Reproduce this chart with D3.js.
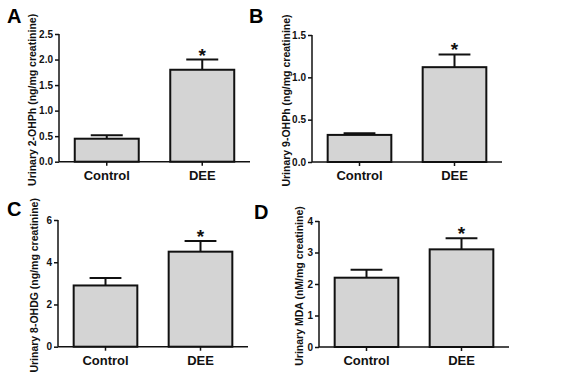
<!DOCTYPE html>
<html>
<head>
<meta charset="utf-8">
<script src="https://cdn.jsdelivr.net/npm/d3@7"></script>
<style>
  html, body { margin: 0; padding: 0; background: #fff; }
  svg { display: block; font-family: "Liberation Sans", Arial, sans-serif; }
</style>
</head>
<body>
<svg id="chart" width="563" height="383"></svg>
<script>
// ---- Data ----
const categories = ["Control", "DEE"];

const ohph2Means = [0.45, 1.80];
const ohph2Errors = [0.07, 0.20];
const ohph2Ticks = [0, 0.5, 1.0, 1.5, 2.0, 2.5];

const ohph9Means = [0.32, 1.12];
const ohph9Errors = [0.02, 0.15];
const ohph9Ticks = [0, 0.5, 1.0, 1.5];

const ohdgMeans = [2.9, 4.5];
const ohdgErrors = [0.35, 0.5];
const ohdgTicks = [0, 2, 4, 6];

const mdaMeans = [2.2, 3.1];
const mdaErrors = [0.25, 0.35];
const mdaTicks = [0, 1, 2, 3, 4];

const significant = [false, true];

const panelLetters = ["A", "B", "C", "D"];
const yTitles = [
  "Urinary 2-OHPh (ng/mg creatinine)",
  "Urinary 9-OHPh (ng/mg creatinine)",
  "Urinary 8-OHDG (ng/mg creatinine)",
  "Urinary MDA (nM/mg creatinine)"
];

// ---- Layout ----
const panels = [
  { letter: panelLetters[0], title: yTitles[0], means: ohph2Means, errs: ohph2Errors, ticks: ohph2Ticks, fmt: ".1f",
    x0: 59, x1: 250, yTop: 34, yBot: 161.7, titleX: 33, letterX: 7, letterY: 23 },
  { letter: panelLetters[1], title: yTitles[1], means: ohph9Means, errs: ohph9Errors, ticks: ohph9Ticks, fmt: ".1f",
    x0: 312, x1: 502, yTop: 35, yBot: 162, titleX: 287, letterX: 249, letterY: 23 },
  { letter: panelLetters[2], title: yTitles[2], means: ohdgMeans, errs: ohdgErrors, ticks: ohdgTicks, fmt: "d",
    x0: 58, x1: 248, yTop: 220, yBot: 346.7, titleX: 35, letterX: 7, letterY: 216 },
  { letter: panelLetters[3], title: yTitles[3], means: mdaMeans, errs: mdaErrors, ticks: mdaTicks, fmt: "d",
    x0: 319, x1: 509, yTop: 221, yBot: 347, titleX: 300, letterX: 254, letterY: 219 }
];

const svg = d3.select("#chart");

panels.forEach(p => {
  const g = svg.append("g");
  const maxV = p.ticks[p.ticks.length - 1];
  const y = d3.scaleLinear().domain([0, maxV]).range([p.yBot, p.yTop]);
  const x = d3.scaleBand().domain(categories).range([p.x0, p.x1])
    .paddingInner(0.33).paddingOuter(0.165);

  // bars
  g.selectAll("rect.bar").data(categories).enter().append("rect")
    .attr("class", "bar")
    .attr("x", d => x(d))
    .attr("width", x.bandwidth())
    .attr("y", (d, i) => y(p.means[i]))
    .attr("height", (d, i) => p.yBot - y(p.means[i]))
    .attr("fill", "#d4d4d4")
    .attr("stroke", "#111")
    .attr("stroke-width", 2);

  // error bars (upper only)
  categories.forEach((c, i) => {
    const cx = x(c) + x.bandwidth() / 2;
    const top = y(p.means[i] + p.errs[i]);
    const capW = x.bandwidth() / 2;
    g.append("line").attr("x1", cx).attr("x2", cx)
      .attr("y1", y(p.means[i])).attr("y2", top)
      .attr("stroke", "#111").attr("stroke-width", 2);
    g.append("line").attr("x1", cx - capW / 2).attr("x2", cx + capW / 2)
      .attr("y1", top).attr("y2", top)
      .attr("stroke", "#111").attr("stroke-width", 2);
    if (significant[i]) {
      g.append("text").attr("x", cx).attr("y", top + 2)
        .attr("text-anchor", "middle")
        .attr("font-size", 19).attr("font-weight", "bold")
        .attr("fill", "#111").text("*");
    }
  });

  // y axis
  const fmt = d3.format(p.fmt);
  const yAxis = d3.axisLeft(y).tickValues(p.ticks).tickFormat(fmt).tickSize(4).tickPadding(2);
  const ya = g.append("g").attr("transform", `translate(${p.x0},0)`).call(yAxis);
  ya.select(".domain").attr("stroke", "#111").attr("stroke-width", 1.5)
    .attr("d", `M-0,${p.yTop}V${p.yBot}`);
  ya.selectAll(".tick line").attr("stroke", "#111").attr("stroke-width", 1.5);
  ya.selectAll(".tick text").attr("font-size", 10).attr("font-weight", "bold")
    .attr("fill", "#111").attr("font-family", "'Liberation Sans', Arial, sans-serif");

  // x axis
  const xAxis = d3.axisBottom(x).tickSize(4).tickPadding(5);
  const xa = g.append("g").attr("transform", `translate(0,${p.yBot})`).call(xAxis);
  xa.select(".domain").attr("stroke", "#111").attr("stroke-width", 1.5)
    .attr("d", `M${p.x0},0H${p.x1}`);
  xa.selectAll(".tick line").attr("stroke", "#111").attr("stroke-width", 1.5);
  xa.selectAll(".tick text").attr("font-size", 13).attr("font-weight", "bold")
    .attr("fill", "#111").attr("font-family", "'Liberation Sans', Arial, sans-serif");

  // y title
  g.append("text")
    .attr("transform", `translate(${p.titleX},${(p.yTop + p.yBot) / 2 + 2}) rotate(-90)`)
    .attr("text-anchor", "middle")
    .attr("dominant-baseline", "middle")
    .attr("font-size", 10.5).attr("font-weight", "bold").attr("fill", "#111")
    .text(p.title);

  // panel letter
  g.append("text").attr("x", p.letterX).attr("y", p.letterY)
    .attr("font-size", 20).attr("font-weight", "bold").attr("fill", "#000")
    .text(p.letter);
});
</script>
</body>
</html>
